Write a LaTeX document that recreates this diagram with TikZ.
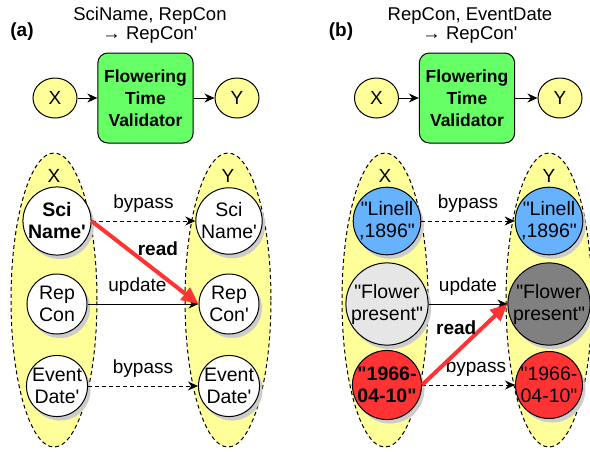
\documentclass[tikz,border=0pt]{standalone}
\usepackage{fontspec}
\setmainfont{Liberation Sans}
\usetikzlibrary{arrows.meta, shapes.geometric, shadows}

\definecolor{lemon}{HTML}{FFFF99}
\definecolor{leaf}{HTML}{66FF66}
\definecolor{sky}{HTML}{66B2FF}
\definecolor{ash}{HTML}{E6E6E6}
\definecolor{slate}{HTML}{808080}
\definecolor{tomato}{HTML}{FF3333}
\newcommand{\ap}{\textquotesingle}
\newcommand{\qt}{\textquotedbl}

\tikzset{
  pool/.style={ellipse, draw, dash pattern=on 4pt off 3pt, fill=lemon, line width=1pt,
               minimum width=86pt, minimum height=294pt, inner sep=0pt},
  term/.style={ellipse, draw, fill=lemon, line width=1pt, minimum width=44pt,
               minimum height=40pt, inner sep=0pt},
  validator/.style={draw, fill=leaf, rounded corners=10pt, line width=1pt, minimum width=95pt,
                    minimum height=90pt, align=center, font=\fontsize{17.5}{22}\selectfont\bfseries},
  cell/.style={circle, draw, fill=white, line width=1pt, minimum size=60pt, inner sep=0pt,
               align=center, font=\fontsize{19.5}{22}\selectfont,
               drop shadow={shadow xshift=3pt, shadow yshift=-4pt, fill=black!20, opacity=1}},
  title/.style={align=center, font=\fontsize{18.5}{19}\selectfont},
  panel/.style={font=\fontsize{19}{22}\selectfont\bfseries},
  readarrow/.style={-{Triangle[length=17pt,width=15pt]}, draw=tomato, line width=4pt},
}

\begin{document}
\fontsize{19}{22}\selectfont
\begin{tikzpicture}[x=1pt, y=-1pt]
\useasboundingbox (0,0) rectangle (590,451);

%% (a)
\begin{scope}
    \node[panel] (La) at (22,32) {(a)};
    \node[title] (Ta) at (150,25) {SciName, RepCon\\→ RepCon\ap};
    \node[term] (Xa) at (55,98) {X};
    \node[validator] (Va) at (145.5,98) {Flowering\\Time\\Validator};
    \node[term] (Ya) at (237,98) {Y};

    \node[pool] (Pa) at (54,300) {};
    \node[pool] (Qa) at (228,300) {};
    \node (PXa) at (54,176) {X};
    \node (QYa) at (228,176) {Y};

    \node[cell, font=\fontsize{19.5}{22}\selectfont\bfseries] (A1) at (57,221) {Sci\\Name\ap};
    \node[cell] (A2) at (57,304) {Rep\\Con};
    \node[cell] (A3) at (57,386) {Event\\Date\ap};
    \node[cell] (B1) at (229,221) {Sci\\Name\ap};
    \node[cell] (B2) at (229,304) {Rep\\Con\ap};
    \node[cell] (B3) at (229,386) {Event\\Date\ap};
\end{scope}

%% (b)
\begin{scope}
    \node[panel] (Lb) at (341,32) {(b)};
    \node[title] (Tb) at (470,25) {RepCon, EventDate\\→ RepCon\ap};
    \node[term] (Xb) at (376.5,98) {X};
    \node[validator] (Vb) at (467,98) {Flowering\\Time\\Validator};
    \node[term] (Yb) at (560,98) {Y};

    \node[pool] (Pb) at (385,300) {};
    \node[pool] (Qb) at (549,300) {};
    \node (PXb) at (385,176) {X};
    \node (QYb) at (549,176) {Y};

    \node[cell, fill=sky] (C1) at (387,221) {\qt Linell\\,1896\qt};
    \node[cell, fill=ash] (C2) at (387,304) {\qt Flower\\present\qt};
    \node[cell, fill=tomato, font=\fontsize{19.5}{22}\selectfont\bfseries] (C3) at (387,385) {\qt 1966-\\04-10\qt};
    \node[cell, fill=sky] (D1) at (549,221) {\qt Linell\\,1896\qt};
    \node[cell, fill=slate] (D2) at (549,304) {\qt Flower\\present\qt};
    \node[cell, fill=tomato] (D3) at (549,385) {\qt 1966-\\04-10\qt};
\end{scope}

\begin{scope}[>={Stealth[length=10pt,width=9pt]}, line width=1pt]
    \path [->] (Xa) edge (Va);
    \path [->] (Va) edge (Ya);
    \path [->, dash pattern=on 4pt off 3pt] (A1) edge node[above=2pt] {bypass} (B1);
    \path [->] (A2) edge node[above=2pt, pos=0.45] {update} (B2);
    \path [->, dash pattern=on 4pt off 3pt] (A3) edge node[above=2pt] {bypass} (B3);

    \path [->] (Xb) edge (Vb);
    \path [->] (Vb) edge (Yb);
    \path [->, dash pattern=on 4pt off 3pt] (C1) edge node[above=2pt] {bypass} (D1);
    \path [->] (C2) edge node[above=2pt] {update} (D2);
    \path [->, dash pattern=on 4pt off 3pt] (C3) edge node[above=2pt, pos=0.58] {bypass} (D3);
\end{scope}

\draw[readarrow] (A1.east) -- node[pos=0.62, above=8.5pt, text=black, font=\bfseries] (Ra) {read} (B2.west);
\draw[readarrow] (C3.east) -- node[pos=0.4, above=9.5pt, text=black, font=\bfseries] (Rb) {read} (D2.west);
\end{tikzpicture}
\end{document}
